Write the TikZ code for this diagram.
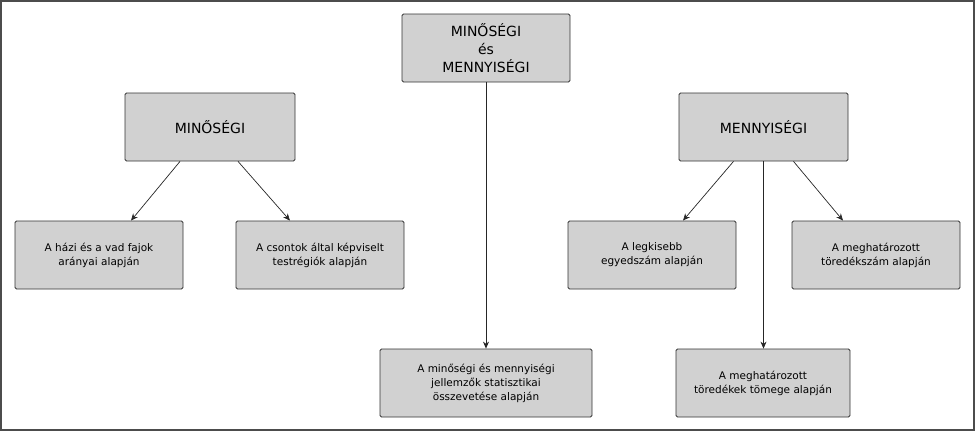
\documentclass[tikz,border=0pt]{standalone}
\usepackage{fontspec}
\setmainfont{DejaVu Sans}
\usetikzlibrary{arrows.meta}
\begin{document}
\begin{tikzpicture}[x=1pt,y=-1pt,
  box/.style={draw=black!80,line width=0.8pt,fill=black!18,rounded corners=1.5pt,align=center,inner sep=0pt},
  big/.style={box,font=\fontsize{14}{18}\selectfont},
  small/.style={box,font=\fontsize{10.5}{14}\selectfont},
  arr/.style={-{Stealth[length=7pt,width=6pt]},line width=0.7pt,black!85}]
\useasboundingbox (0,0) rectangle (975,431);
\draw[line width=2pt,black!70] (1,1) rectangle (974,430);
\node[big,minimum width=168pt,minimum height=68pt] (top) at (486,48) {MINŐSÉGI\\és\\MENNYISÉGI};
\node[big,minimum width=170pt,minimum height=68pt] (q) at (210,127) {MINŐSÉGI};
\node[big,minimum width=169pt,minimum height=68pt] (m) at (763.5,127) {MENNYISÉGI};
\node[small,minimum width=168pt,minimum height=68pt] (a) at (99,255) {A házi és a vad fajok\\arányai alapján};
\node[small,minimum width=168pt,minimum height=68pt] (b) at (320,255) {A csontok által képviselt\\testrégiók alapján};
\node[small,minimum width=168pt,minimum height=68pt] (c) at (652,255) {A legkisebb\\egyedszám alapján};
\node[small,minimum width=168pt,minimum height=68pt] (d) at (876,255) {A meghatározott\\töredékszám alapján};
\node[small,minimum width=212pt,minimum height=68pt] (e) at (486,383) {A minőségi és mennyiségi\\jellemzők statisztikai\\összevetése alapján};
\node[small,minimum width=174pt,minimum height=68pt] (f) at (763,383) {A meghatározott\\töredékek tömege alapján};
\draw[arr] (top.south) -- (e.north);
\draw[arr] ([xshift=-30pt]q.south) -- ([xshift=32pt]a.north);
\draw[arr] ([xshift=28pt]q.south) -- ([xshift=-30pt]b.north);
\draw[arr] ([xshift=-30pt]m.south) -- ([xshift=31pt]c.north);
\draw[arr] (m.south) -- (m.south |- f.north);
\draw[arr] ([xshift=30pt]m.south) -- ([xshift=-33pt]d.north);
\end{tikzpicture}
\end{document}
